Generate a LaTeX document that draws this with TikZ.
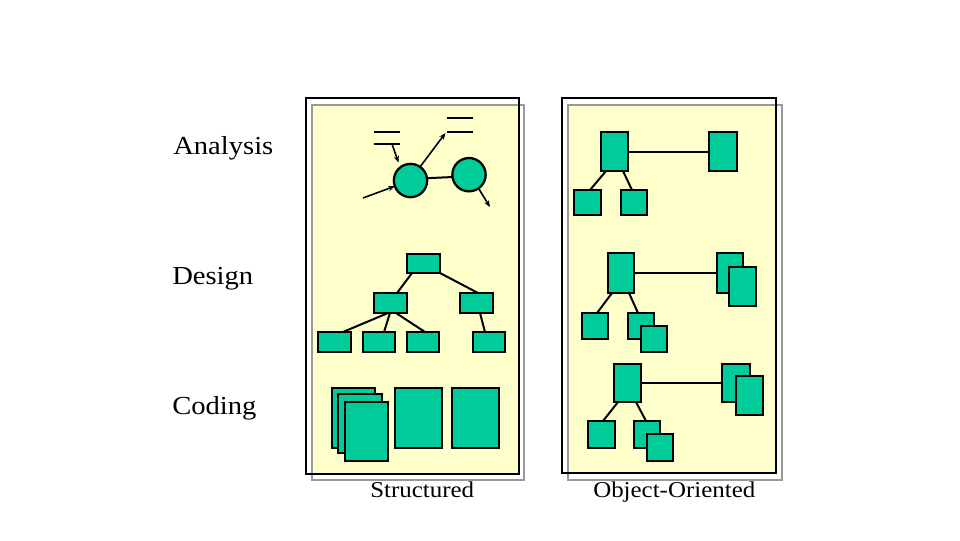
\documentclass[tikz,border=0pt]{standalone}
\usepackage{fontspec}
\usepackage{graphicx}
\setmainfont{Liberation Serif}
\usetikzlibrary{calc,arrows.meta}
\definecolor{boxgreen}{HTML}{00CC99}
\definecolor{panelyellow}{HTML}{FFFFCC}
\definecolor{shadowgray}{HTML}{999999}
\tikzset{
  gbox/.style={draw=black, fill=boxgreen, line width=1.6pt, inner sep=0pt, outer sep=0pt},
  gcirc/.style={circle, draw=black, fill=boxgreen, line width=1.7pt, inner sep=0pt, outer sep=0pt, minimum size=25pt},
  conn/.style={line width=1.5pt},
  arr/.style={line width=1.2pt, -{Stealth[length=5pt,width=4pt]}},
  store/.style={inner sep=0pt, outer sep=0pt, minimum width=19.5pt},
  rowlabel/.style={anchor=base west, inner sep=0pt, font=\fontsize{19.5}{22}\selectfont},
  panellabel/.style={anchor=base west, inner sep=0pt, font=\fontsize{17}{20}\selectfont},
}
\newcommand\gbox[5]{\node[gbox, minimum width={((#4)-(#2))*0.75pt}, minimum height={((#5)-(#3))*0.75pt}] (#1) at ({((#2)+(#4))/2},{((#3)+(#5))/2}) {};}
\begin{document}
\begin{tikzpicture}[x=0.75pt,y=-0.75pt]
\useasboundingbox (0,0) rectangle (960,540);
% ---- panels ----
\fill[panelyellow] (312,105) rectangle (519,474);
\draw[shadowgray, line width=1.6pt] (312,105) rectangle (524,480);
\draw[black, line width=1.6pt] (306,98) rectangle (519,474);
\fill[panelyellow] (568,105) rectangle (776,473);
\draw[shadowgray, line width=1.6pt] (568,105) rectangle (782,480);
\draw[black, line width=1.6pt] (562,98) rectangle (776,473);
% ---- row labels ----
\node[rowlabel] (lana) at (173,154) {\scalebox{1.1}[1]{Analysis}};
\node[rowlabel] (ldes) at (172,284) {\scalebox{1.1}[1]{Design}};
\node[rowlabel] (lcod) at (172,414) {\scalebox{1.1}[1]{Coding}};
\node[panellabel] (lstr) at (370,497) {\scalebox{1.1}[1]{Structured}};
\node[panellabel] (loo) at (593,497) {\scalebox{1.1}[1]{Object-Oriented}};
% ---- Structured: analysis ----
\node[gcirc] (c1) at (410.5,180.5) {};
\node[gcirc] (c2) at (469,174.7) {};
\node[store, minimum height=9pt] (ds1) at (387,138) {};
\node[store, minimum height=10.5pt] (ds2) at (459.5,125) {};
\draw[conn] (ds1.north west) -- (ds1.north east) (ds1.south west) -- (ds1.south east);
\draw[conn] (ds2.north west) -- (ds2.north east) (ds2.south west) -- (ds2.south east);
\draw[conn] (c1.8) -- (c2.188);
\draw[arr] ($(ds1.south west)+(18,0)$) -- ($(c1.center)+(-12,-18)$);
\draw[arr] (c1.55) -- ($(ds2.south west)+(-1,1)$);
\coordinate (inflow) at (363,198);
\draw[arr] (inflow) -- (c1.200);
\coordinate (outflow) at (490,207);
\draw[arr] (c2.-55) -- (outflow);
% ---- Structured: design ----
\gbox{dt}{407}{254}{440}{273}
\gbox{dml}{374}{293}{407}{313}
\gbox{dmr}{460}{293}{493}{313}
\gbox{db1}{318}{332}{351}{352}
\gbox{db2}{363}{332}{395}{352}
\gbox{db3}{407}{332}{439}{352}
\gbox{db4}{473}{332}{505}{352}
\draw[conn] ($(dt.south west)+(5,0)$) -- ($(dml.north west)+(23,0)$);
\draw[conn] (dt.south east) -- ($(dmr.north west)+(18,0)$);
\draw[conn] ($(dml.south west)+(14,0)$) -- ($(db1.north west)+(25,0)$);
\draw[conn] ($(dml.south west)+(16,0)$) -- ($(db2.north west)+(21,0)$);
\draw[conn] ($(dml.south west)+(22,0)$) -- ($(db3.north west)+(18,0)$);
\draw[conn] ($(dmr.south west)+(20,0)$) -- ($(db4.north west)+(12,0)$);
% ---- Structured: coding ----
\gbox{cs1}{332}{388}{375}{448}
\gbox{cs2}{338}{394}{382}{453}
\gbox{cs3}{345}{402}{388}{461}
\gbox{cr1}{395}{388}{442}{448}
\gbox{cr2}{452}{388}{499}{448}
% ---- OO: analysis ----
\gbox{oaa}{601}{132}{628}{171}
\gbox{oab}{709}{132}{737}{171}
\gbox{oac}{574}{190}{601}{215}
\gbox{oad}{621}{190}{647}{215}
\draw[conn] (oaa.east) -- (oab.west);
\draw[conn] ($(oaa.south west)+(5,0)$) -- ($(oac.north west)+(16,0)$);
\draw[conn] ($(oaa.south west)+(22,0)$) -- ($(oad.north west)+(11,0)$);
% ---- OO: design ----
\gbox{oda}{608}{253}{634}{293}
\gbox{odb1}{717}{253}{743}{293}
\gbox{odb2}{729}{267}{756}{306}
\gbox{odc}{582}{313}{608}{339}
\gbox{odd1}{628}{313}{654}{339}
\gbox{odd2}{641}{326}{667}{352}
\draw[conn] (oda.east) -- (odb1.west);
\draw[conn] ($(oda.south west)+(4,0)$) -- ($(odc.north west)+(15,0)$);
\draw[conn] ($(oda.south west)+(21,0)$) -- ($(odd1.north west)+(10,0)$);
% ---- OO: coding ----
\gbox{oca}{614}{364}{641}{402}
\gbox{ocb1}{722}{364}{750}{402}
\gbox{ocb2}{736}{376}{763}{415}
\gbox{occ}{588}{421}{615}{448}
\gbox{ocd1}{634}{421}{660}{448}
\gbox{ocd2}{647}{434}{673}{461}
\draw[line width=2pt] (oca.east) -- (ocb1.west);
\draw[conn] ($(oca.south west)+(4,0)$) -- ($(occ.north west)+(15,0)$);
\draw[conn] ($(oca.south west)+(22,0)$) -- ($(ocd1.north west)+(12,0)$);
\end{tikzpicture}
\end{document}
